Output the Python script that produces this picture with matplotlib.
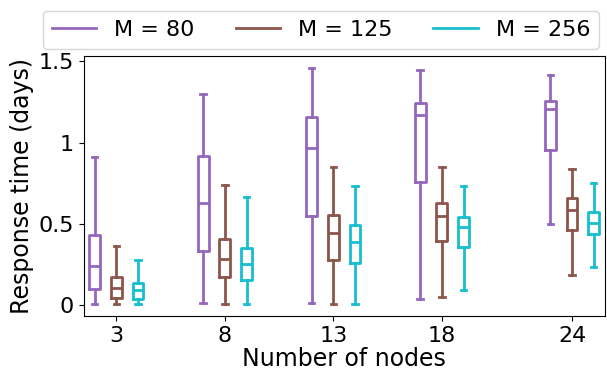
import matplotlib
matplotlib.use('Agg')
import matplotlib.pyplot as plt
from matplotlib.lines import Line2D
from matplotlib.ticker import FuncFormatter

# Number of nodes on the x axis
nodes = [3, 8, 13, 18, 24]
series = ['M = 80', 'M = 125', 'M = 256']
colors = ['tab:purple', 'tab:brown', 'tab:cyan']

# box stats: (whislo, q1, med, q3, whishi)
m80 = [(0.005, 0.10, 0.24, 0.43, 0.91),
       (0.01, 0.33, 0.63, 0.92, 1.30),
       (0.01, 0.55, 0.967, 1.16, 1.46),
       (0.033, 0.758, 1.172, 1.246, 1.45),
       (0.50, 0.953, 1.207, 1.258, 1.415)]
m125 = [(0.005, 0.043, 0.106, 0.17, 0.36),
        (0.005, 0.172, 0.285, 0.405, 0.74),
        (0.005, 0.279, 0.443, 0.553, 0.85),
        (0.049, 0.393, 0.549, 0.627, 0.85),
        (0.182, 0.461, 0.584, 0.658, 0.838)]
m256 = [(0.005, 0.035, 0.092, 0.133, 0.275),
        (0.005, 0.152, 0.254, 0.352, 0.664),
        (0.005, 0.258, 0.39, 0.49, 0.73),
        (0.092, 0.358, 0.481, 0.543, 0.731),
        (0.234, 0.434, 0.506, 0.572, 0.752)]

fig = plt.figure(figsize=(6.07, 3.72), dpi=100)
ax = fig.add_axes([0.138, 0.151, 0.858, 0.698])

offsets = [-1, 0, 1]
for data, col, off in zip([m80, m125, m256], colors, offsets):
    stats = []
    for lo, q1, med, q3, hi in data:
        stats.append({'whislo': lo, 'q1': q1, 'med': med, 'q3': q3,
                      'whishi': hi, 'fliers': []})
    props = dict(color=col, linewidth=2)
    ax.bxp(stats, positions=[n + off for n in nodes], widths=0.5,
           showfliers=False, manage_ticks=False,
           boxprops=props, whiskerprops=props, capprops=props,
           medianprops=props)

ax.set_xticks(nodes)
ax.set_xticklabels([str(n) for n in nodes])
ax.set_xlim(1.5, 25.5)
ax.set_yticks([0, 0.5, 1, 1.5])
ax.yaxis.set_major_formatter(FuncFormatter(lambda v, p: '{:g}'.format(v)))
ax.tick_params(labelsize=16)
ax.set_xlabel('Number of nodes', fontsize=17, labelpad=1)
ax.set_ylabel('Response time (days)', fontsize=17, labelpad=3)

handles = [Line2D([], [], color=c, linewidth=2) for c in colors]
fig.legend(handles, series, loc='upper left', ncol=3, fontsize=16,
           bbox_to_anchor=(43 / 607, 1 - 11 / 372), borderaxespad=0,
           columnspacing=1.85, handlelength=2.0)

fig.savefig('out.png', dpi=100)
